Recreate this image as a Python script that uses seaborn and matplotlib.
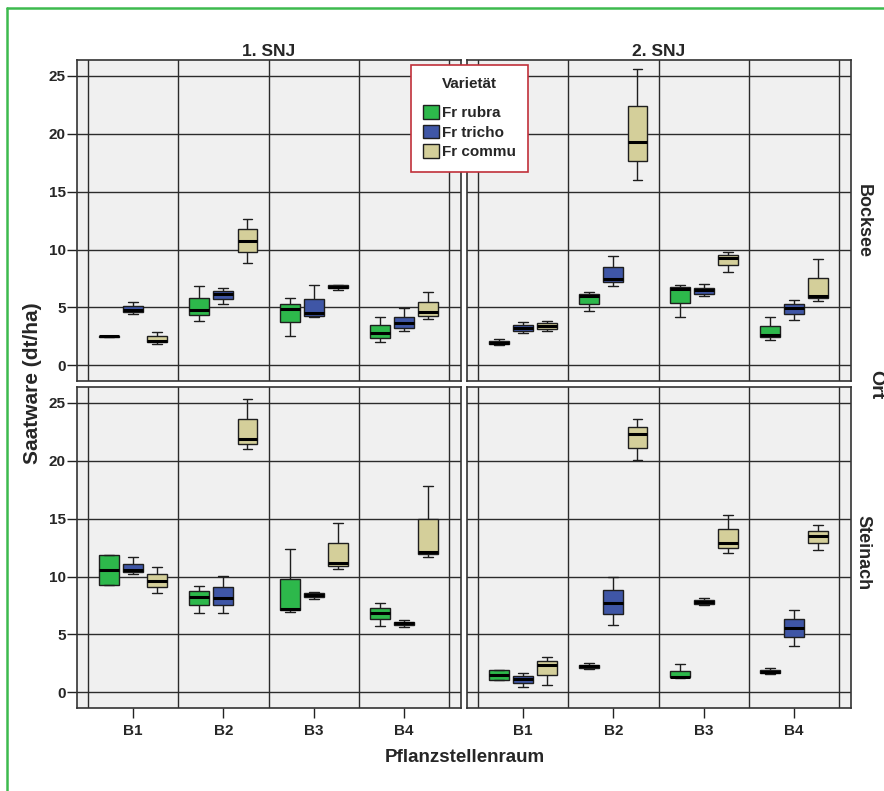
import numpy as np
import pandas as pd
import matplotlib
matplotlib.use("Agg")
import matplotlib.pyplot as plt
import seaborn as sns
from matplotlib.patches import Patch
from matplotlib.lines import Line2D

# ---------------- data ----------------
raum = ["B1", "B2", "B3", "B4"]
varietaet = ["Fr rubra", "Fr tricho", "Fr commu"]
snj = ["1. SNJ", "2. SNJ"]
ort = ["Bocksee", "Steinach"]
colors = ["#2DB84B", "#3F56A6", "#D4CF9A"]
y_ticks = [0, 5, 10, 15, 20, 25]

# five-number summaries (min, q1, median, q3, max); per Raum: [rubra, tricho, commu]
bocksee_snj1 = [
    [[2.48, 2.49, 2.50, 2.51, 2.52], [4.41, 4.58, 4.82, 5.13, 5.48], [1.87, 1.99, 2.10, 2.51, 2.88]],
    [[3.86, 4.33, 4.82, 5.85, 6.89], [5.28, 5.74, 6.20, 6.46, 6.66], [8.88, 9.83, 10.78, 11.74, 12.66]],
    [[2.57, 3.72, 4.90, 5.33, 5.80], [4.18, 4.30, 4.53, 5.74, 6.98], [6.55, 6.72, 6.81, 6.92, 6.98]],
    [[2.05, 2.39, 2.77, 3.49, 4.18], [2.97, 3.26, 3.63, 4.21, 4.96], [3.98, 4.27, 4.61, 5.48, 6.37]],
]
bocksee_snj2 = [
    [[1.79, 1.85, 1.96, 2.08, 2.28], [2.77, 3.00, 3.26, 3.46, 3.75], [3.00, 3.17, 3.40, 3.63, 3.86]],
    [[4.67, 5.33, 5.97, 6.17, 6.34], [6.89, 7.21, 7.47, 8.48, 9.46], [16.00, 17.62, 19.32, 22.43, 25.58]],
    [[4.18, 5.39, 6.60, 6.78, 6.95], [5.97, 6.20, 6.49, 6.72, 7.04], [8.10, 8.71, 9.26, 9.52, 9.78]],
    [[2.16, 2.42, 2.62, 3.37, 4.18], [3.89, 4.47, 4.96, 5.31, 5.68], [5.59, 5.80, 5.97, 7.55, 9.17]],
]
steinach_snj1 = [
    [[9.30, 9.30, 10.57, 11.84, 11.84], [10.25, 10.40, 10.57, 11.09, 11.66], [8.61, 9.13, 9.65, 10.22, 10.80]],
    [[6.85, 7.55, 8.21, 8.73, 9.22], [6.88, 7.55, 8.18, 9.07, 10.02], [21.03, 21.49, 21.89, 23.62, 25.35]],
    [[6.97, 7.09, 7.20, 9.76, 12.38], [8.06, 8.27, 8.41, 8.55, 8.64], [10.63, 10.92, 11.20, 12.90, 14.66]],
    [[5.76, 6.34, 6.83, 7.26, 7.69], [5.67, 5.82, 5.96, 6.08, 6.25], [11.69, 11.95, 12.15, 14.95, 17.80]],
]
steinach_snj2 = [
    [[1.05, 1.05, 1.50, 1.92, 1.92], [0.43, 0.81, 1.15, 1.41, 1.64], [0.66, 1.53, 2.36, 2.68, 3.02]],
    [[2.02, 2.10, 2.25, 2.36, 2.53], [5.82, 6.77, 7.72, 8.84, 9.97], [20.05, 21.14, 22.29, 22.93, 23.62]],
    [[1.27, 1.30, 1.36, 1.87, 2.45], [7.55, 7.66, 7.81, 7.95, 8.18], [12.04, 12.47, 12.87, 14.08, 15.29]],
    [[1.58, 1.67, 1.79, 1.93, 2.13], [4.03, 4.78, 5.56, 6.34, 7.11], [12.27, 12.87, 13.54, 13.97, 14.49]],
]

panels = {
    ("Bocksee", "1. SNJ"): bocksee_snj1,
    ("Bocksee", "2. SNJ"): bocksee_snj2,
    ("Steinach", "1. SNJ"): steinach_snj1,
    ("Steinach", "2. SNJ"): steinach_snj2,
}

rows = []
for (o, s), tab in panels.items():
    for ri, r in enumerate(raum):
        for vi, v in enumerate(varietaet):
            for val in tab[ri][vi]:
                rows.append({"Ort": o, "SNJ": s, "Pflanzstellenraum": r,
                             "Varietät": v, "Saatware": val})
df = pd.DataFrame(rows)

# ---------------- figure ----------------
sns.set_style("white")
plt.rcParams["font.family"] = ["Liberation Sans", "DejaVu Sans"]
plt.rcParams["font.weight"] = "bold"

W, H = 884, 791
fig = plt.figure(figsize=(W / 100, H / 100), dpi=100)

def px_axes(left, right, top, bottom):
    return fig.add_axes([left / W, 1 - bottom / H, (right - left) / W, (bottom - top) / H])

boxes = {
    (0, 0): (77, 461, 60, 381),
    (0, 1): (467, 851, 60, 381),
    (1, 0): (77, 461, 387, 708),
    (1, 1): (467, 851, 387, 708),
}

line_col = "#2b2b2b"
for (ri, ci), (l, r, t, b) in boxes.items():
    ax = px_axes(l, r, t, b)
    sub = df[(df["Ort"] == ort[ri]) & (df["SNJ"] == snj[ci])]
    sns.boxplot(data=sub, x="Pflanzstellenraum", y="Saatware", hue="Varietät",
                order=raum, hue_order=varietaet, palette=colors,
                whis=(0, 100), showfliers=False, width=0.8, gap=0.18,
                linecolor="#1e1e1e", linewidth=1.0, saturation=1,
                medianprops=dict(color="black", linewidth=2.2),
                legend=False, ax=ax)
    ax.set_facecolor("#F0F0F0")
    ax.set_xlim(-0.62, 3.63)
    ax.set_ylim(-1.35, 26.38)
    ax.set_axisbelow(True)
    ax.set_yticks(y_ticks)
    ax.set_xticks(range(4))
    ax.set_xticks(np.arange(-0.5, 4.0, 1.0), minor=True)
    ax.yaxis.grid(True, color=line_col, linewidth=1.0)
    ax.xaxis.grid(False, which="major")
    ax.xaxis.grid(True, which="minor", color=line_col, linewidth=1.0)
    ax.tick_params(which="minor", length=0)
    ax.set_xlabel("")
    ax.set_ylabel("")
    for sp in ax.spines.values():
        sp.set_color("#333333")
        sp.set_linewidth(1.2)
        sp.set_visible(True)
    if ci == 0:
        ax.tick_params(axis="y", which="major", left=True, length=7.2, width=1,
                       color="#222222", pad=1, labelsize=11)
        for lab in ax.get_yticklabels():
            lab.set_fontweight("bold")
    else:
        ax.tick_params(axis="y", which="major", left=False, labelleft=False)
    if ri == 1:
        ax.set_xticklabels(raum)
        ax.tick_params(axis="x", which="major", bottom=True, length=7.2, width=1,
                       color="#222222", pad=4, labelsize=11)
        for lab in ax.get_xticklabels():
            lab.set_fontweight("bold")
    else:
        ax.tick_params(axis="x", which="major", bottom=False, labelbottom=False)
    if ri == 0:
        ax.set_title(snj[ci], fontsize=12.5, fontweight="bold", pad=3)

# row labels and outer labels
fig.text(863 / W, 1 - 221 / H, "Bocksee", rotation=270, ha="center", va="center",
         fontsize=13, fontweight="bold")
fig.text(863 / W, 1 - 553 / H, "Steinach", rotation=270, ha="center", va="center",
         fontsize=13, fontweight="bold")
fig.text(876 / W, 1 - 385 / H, "Ort", rotation=270, ha="center", va="center",
         fontsize=14, fontweight="bold")
fig.text(33 / W, 1 - 383 / H, "Saatware (dt/ha)", rotation=90, ha="center",
         va="center", fontsize=15, fontweight="bold")
fig.text(465 / W, 1 - 758 / H, "Pflanzstellenraum", ha="center", va="center",
         fontsize=13.5, fontweight="bold")

# legend
handles = [Patch(facecolor=c, edgecolor="#1e1e1e", linewidth=1.0) for c in colors]
leg = fig.legend(handles, varietaet, title="Varietät", loc="upper left",
                 bbox_to_anchor=(411 / W, 1 - 65 / H), frameon=True,
                 fancybox=False, edgecolor="#C0303A", facecolor="white",
                 framealpha=1, prop={"weight": "bold", "size": 11},
                 title_fontproperties={"weight": "bold", "size": 11},
                 handlelength=1.0, handleheight=1.0, handletextpad=0.2,
                 borderpad=0.8, labelspacing=0.3, borderaxespad=0)
leg._legend_box.sep = 10
leg.get_frame().set_linewidth(1.2)

# green outer frame
fig.add_artist(Line2D([7 / W, 7 / W], [0, 1 - 8 / H], transform=fig.transFigure,
                      color="#3DBA4E", linewidth=1.8))
fig.add_artist(Line2D([7 / W, 1], [1 - 8 / H, 1 - 8 / H], transform=fig.transFigure,
                      color="#3DBA4E", linewidth=1.8))

fig.savefig("out.png", dpi=100, facecolor="white")
